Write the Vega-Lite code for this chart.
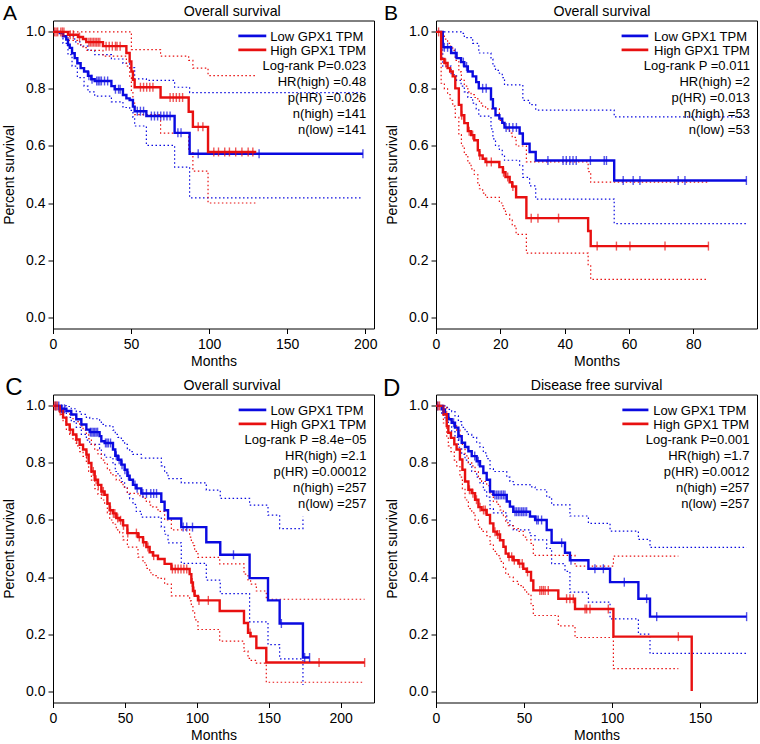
{
"$schema": "https://vega.github.io/schema/vega-lite/v6.json",
"background": "white",
"padding": {"left": 2, "top": 1.5, "right": 0, "bottom": 0},
"bounds": "flush",
"columns": 2,
"spacing": {"row": 66, "column": 62},
"config": {
  "font": "Liberation Sans",
  "view": {"stroke": "black", "strokeWidth": 1},
  "axis": {"domain": false, "grid": false, "tickColor": "black", "tickSize": 5, "labelColor": "black", "labelFont": "Liberation Sans", "labelFontSize": 14, "titleFont": "Liberation Sans", "titleFontSize": 14, "titleFontWeight": "normal", "titleColor": "black", "labelFlush": false, "labelOverlap": false},
  "axisX": {"labelPadding": 4, "titlePadding": 3},
  "axisY": {"labelPadding": 3, "titlePadding": 9}
},
"datasets": {
"curves": [
{"p":"A","g":"Low","k":"est","t":0,"s":1},{"p":"A","g":"Low","k":"est","t":4.3,"s":0.996},{"p":"A","g":"Low","k":"est","t":6.4,"s":0.985},{"p":"A","g":"Low","k":"est","t":8.5,"s":0.973},{"p":"A","g":"Low","k":"est","t":9.6,"s":0.955},{"p":"A","g":"Low","k":"est","t":10.7,"s":0.944},{"p":"A","g":"Low","k":"est","t":12.2,"s":0.925},{"p":"A","g":"Low","k":"est","t":13.9,"s":0.908},{"p":"A","g":"Low","k":"est","t":15.6,"s":0.89},{"p":"A","g":"Low","k":"est","t":17.7,"s":0.873},{"p":"A","g":"Low","k":"est","t":19.9,"s":0.861},{"p":"A","g":"Low","k":"est","t":22.4,"s":0.846},{"p":"A","g":"Low","k":"est","t":24.5,"s":0.834},{"p":"A","g":"Low","k":"est","t":26.7,"s":0.828},{"p":"A","g":"Low","k":"est","t":37.4,"s":0.81},{"p":"A","g":"Low","k":"est","t":39.5,"s":0.799},{"p":"A","g":"Low","k":"est","t":44.8,"s":0.779},{"p":"A","g":"Low","k":"est","t":47.0,"s":0.767},{"p":"A","g":"Low","k":"est","t":49.1,"s":0.761},{"p":"A","g":"Low","k":"est","t":51.2,"s":0.738},{"p":"A","g":"Low","k":"est","t":52.3,"s":0.722},{"p":"A","g":"Low","k":"est","t":59.8,"s":0.705},{"p":"A","g":"Low","k":"est","t":77.9,"s":0.646},{"p":"A","g":"Low","k":"est","t":87.5,"s":0.573},{"p":"A","g":"Low","k":"est","t":198.5,"s":0.573},
{"p":"A","g":"Low","k":"upper","t":0,"s":1},{"p":"A","g":"Low","k":"upper","t":8.5,"s":0.995},{"p":"A","g":"Low","k":"upper","t":10.7,"s":0.985},{"p":"A","g":"Low","k":"upper","t":13.9,"s":0.965},{"p":"A","g":"Low","k":"upper","t":17.7,"s":0.95},{"p":"A","g":"Low","k":"upper","t":22.4,"s":0.935},{"p":"A","g":"Low","k":"upper","t":26.7,"s":0.92},{"p":"A","g":"Low","k":"upper","t":37.4,"s":0.905},{"p":"A","g":"Low","k":"upper","t":44.8,"s":0.89},{"p":"A","g":"Low","k":"upper","t":49.1,"s":0.875},{"p":"A","g":"Low","k":"upper","t":52.3,"s":0.835},{"p":"A","g":"Low","k":"upper","t":59.8,"s":0.83},{"p":"A","g":"Low","k":"upper","t":77.9,"s":0.806},{"p":"A","g":"Low","k":"upper","t":87.5,"s":0.787},{"p":"A","g":"Low","k":"upper","t":198.5,"s":0.787},
{"p":"A","g":"Low","k":"lower","t":0,"s":1},{"p":"A","g":"Low","k":"lower","t":6.4,"s":0.96},{"p":"A","g":"Low","k":"lower","t":9.6,"s":0.92},{"p":"A","g":"Low","k":"lower","t":12.2,"s":0.88},{"p":"A","g":"Low","k":"lower","t":15.6,"s":0.84},{"p":"A","g":"Low","k":"lower","t":19.9,"s":0.81},{"p":"A","g":"Low","k":"lower","t":22.4,"s":0.79},{"p":"A","g":"Low","k":"lower","t":26.7,"s":0.775},{"p":"A","g":"Low","k":"lower","t":37.4,"s":0.755},{"p":"A","g":"Low","k":"lower","t":44.8,"s":0.735},{"p":"A","g":"Low","k":"lower","t":49.1,"s":0.725},{"p":"A","g":"Low","k":"lower","t":51.2,"s":0.7},{"p":"A","g":"Low","k":"lower","t":52.3,"s":0.67},{"p":"A","g":"Low","k":"lower","t":59.8,"s":0.602},{"p":"A","g":"Low","k":"lower","t":77.9,"s":0.526},{"p":"A","g":"Low","k":"lower","t":87.5,"s":0.418},{"p":"A","g":"Low","k":"lower","t":198.5,"s":0.418},
{"p":"A","g":"High","k":"est","t":0,"s":1},{"p":"A","g":"High","k":"est","t":9.6,"s":0.99},{"p":"A","g":"High","k":"est","t":16.0,"s":0.982},{"p":"A","g":"High","k":"est","t":19.2,"s":0.975},{"p":"A","g":"High","k":"est","t":21.3,"s":0.964},{"p":"A","g":"High","k":"est","t":32.0,"s":0.95},{"p":"A","g":"High","k":"est","t":47.0,"s":0.926},{"p":"A","g":"High","k":"est","t":49.1,"s":0.896},{"p":"A","g":"High","k":"est","t":50.2,"s":0.861},{"p":"A","g":"High","k":"est","t":51.2,"s":0.832},{"p":"A","g":"High","k":"est","t":52.3,"s":0.806},{"p":"A","g":"High","k":"est","t":68.9,"s":0.77},{"p":"A","g":"High","k":"est","t":86.9,"s":0.72},{"p":"A","g":"High","k":"est","t":89.6,"s":0.667},{"p":"A","g":"High","k":"est","t":99.3,"s":0.579},{"p":"A","g":"High","k":"est","t":130.2,"s":0.579},
{"p":"A","g":"High","k":"upper","t":0,"s":1},{"p":"A","g":"High","k":"upper","t":50.2,"s":0.938},{"p":"A","g":"High","k":"upper","t":68.9,"s":0.915},{"p":"A","g":"High","k":"upper","t":86.9,"s":0.9},{"p":"A","g":"High","k":"upper","t":89.6,"s":0.873},{"p":"A","g":"High","k":"upper","t":99.3,"s":0.847},{"p":"A","g":"High","k":"upper","t":130.2,"s":0.847},
{"p":"A","g":"High","k":"lower","t":0,"s":1},{"p":"A","g":"High","k":"lower","t":9.6,"s":0.97},{"p":"A","g":"High","k":"lower","t":16.0,"s":0.955},{"p":"A","g":"High","k":"lower","t":19.2,"s":0.945},{"p":"A","g":"High","k":"lower","t":21.3,"s":0.935},{"p":"A","g":"High","k":"lower","t":32.0,"s":0.915},{"p":"A","g":"High","k":"lower","t":47.0,"s":0.88},{"p":"A","g":"High","k":"lower","t":49.1,"s":0.84},{"p":"A","g":"High","k":"lower","t":50.2,"s":0.79},{"p":"A","g":"High","k":"lower","t":51.2,"s":0.75},{"p":"A","g":"High","k":"lower","t":52.3,"s":0.71},{"p":"A","g":"High","k":"lower","t":68.9,"s":0.645},{"p":"A","g":"High","k":"lower","t":86.9,"s":0.58},{"p":"A","g":"High","k":"lower","t":89.6,"s":0.512},{"p":"A","g":"High","k":"lower","t":99.3,"s":0.4},{"p":"A","g":"High","k":"lower","t":130.2,"s":0.4},

{"p":"B","g":"Low","k":"est","t":0,"s":1},{"p":"B","g":"Low","k":"est","t":2.1,"s":0.946},{"p":"B","g":"Low","k":"est","t":4.7,"s":0.926},{"p":"B","g":"Low","k":"est","t":6.4,"s":0.908},{"p":"B","g":"Low","k":"est","t":7.8,"s":0.894},{"p":"B","g":"Low","k":"est","t":8.8,"s":0.879},{"p":"B","g":"Low","k":"est","t":9.9,"s":0.861},{"p":"B","g":"Low","k":"est","t":11.4,"s":0.844},{"p":"B","g":"Low","k":"est","t":12.5,"s":0.824},{"p":"B","g":"Low","k":"est","t":13.3,"s":0.802},{"p":"B","g":"Low","k":"est","t":17.1,"s":0.764},{"p":"B","g":"Low","k":"est","t":17.7,"s":0.732},{"p":"B","g":"Low","k":"est","t":18.5,"s":0.708},{"p":"B","g":"Low","k":"est","t":19.7,"s":0.696},{"p":"B","g":"Low","k":"est","t":20.6,"s":0.681},{"p":"B","g":"Low","k":"est","t":21.3,"s":0.665},{"p":"B","g":"Low","k":"est","t":26.0,"s":0.644},{"p":"B","g":"Low","k":"est","t":27.0,"s":0.608},{"p":"B","g":"Low","k":"est","t":29.1,"s":0.579},{"p":"B","g":"Low","k":"est","t":31.0,"s":0.549},{"p":"B","g":"Low","k":"est","t":55.4,"s":0.479},{"p":"B","g":"Low","k":"est","t":96.5,"s":0.479},
{"p":"B","g":"Low","k":"upper","t":0,"s":1},{"p":"B","g":"Low","k":"upper","t":7.8,"s":0.995},{"p":"B","g":"Low","k":"upper","t":8.8,"s":0.98},{"p":"B","g":"Low","k":"upper","t":11.4,"s":0.96},{"p":"B","g":"Low","k":"upper","t":13.3,"s":0.926},{"p":"B","g":"Low","k":"upper","t":17.1,"s":0.905},{"p":"B","g":"Low","k":"upper","t":17.7,"s":0.88},{"p":"B","g":"Low","k":"upper","t":18.5,"s":0.865},{"p":"B","g":"Low","k":"upper","t":19.7,"s":0.855},{"p":"B","g":"Low","k":"upper","t":20.6,"s":0.84},{"p":"B","g":"Low","k":"upper","t":21.3,"s":0.814},{"p":"B","g":"Low","k":"upper","t":27.0,"s":0.76},{"p":"B","g":"Low","k":"upper","t":29.1,"s":0.745},{"p":"B","g":"Low","k":"upper","t":31.0,"s":0.726},{"p":"B","g":"Low","k":"upper","t":55.4,"s":0.702},{"p":"B","g":"Low","k":"upper","t":96.5,"s":0.702},
{"p":"B","g":"Low","k":"lower","t":0,"s":1},{"p":"B","g":"Low","k":"lower","t":2.1,"s":0.88},{"p":"B","g":"Low","k":"lower","t":4.7,"s":0.85},{"p":"B","g":"Low","k":"lower","t":6.4,"s":0.83},{"p":"B","g":"Low","k":"lower","t":7.8,"s":0.81},{"p":"B","g":"Low","k":"lower","t":8.8,"s":0.79},{"p":"B","g":"Low","k":"lower","t":9.9,"s":0.77},{"p":"B","g":"Low","k":"lower","t":11.4,"s":0.75},{"p":"B","g":"Low","k":"lower","t":12.5,"s":0.73},{"p":"B","g":"Low","k":"lower","t":13.3,"s":0.705},{"p":"B","g":"Low","k":"lower","t":17.1,"s":0.66},{"p":"B","g":"Low","k":"lower","t":17.7,"s":0.625},{"p":"B","g":"Low","k":"lower","t":18.5,"s":0.6},{"p":"B","g":"Low","k":"lower","t":19.7,"s":0.585},{"p":"B","g":"Low","k":"lower","t":20.6,"s":0.57},{"p":"B","g":"Low","k":"lower","t":21.3,"s":0.55},{"p":"B","g":"Low","k":"lower","t":26.0,"s":0.53},{"p":"B","g":"Low","k":"lower","t":27.0,"s":0.49},{"p":"B","g":"Low","k":"lower","t":29.1,"s":0.46},{"p":"B","g":"Low","k":"lower","t":31.0,"s":0.414},{"p":"B","g":"Low","k":"lower","t":55.4,"s":0.328},{"p":"B","g":"Low","k":"lower","t":96.5,"s":0.328},
{"p":"B","g":"High","k":"est","t":0,"s":1},{"p":"B","g":"High","k":"est","t":1.6,"s":0.905},{"p":"B","g":"High","k":"est","t":2.6,"s":0.891},{"p":"B","g":"High","k":"est","t":3.6,"s":0.873},{"p":"B","g":"High","k":"est","t":4.4,"s":0.861},{"p":"B","g":"High","k":"est","t":5.2,"s":0.844},{"p":"B","g":"High","k":"est","t":6.0,"s":0.802},{"p":"B","g":"High","k":"est","t":7.1,"s":0.744},{"p":"B","g":"High","k":"est","t":7.9,"s":0.708},{"p":"B","g":"High","k":"est","t":8.8,"s":0.68},{"p":"B","g":"High","k":"est","t":9.9,"s":0.652},{"p":"B","g":"High","k":"est","t":10.9,"s":0.638},{"p":"B","g":"High","k":"est","t":11.9,"s":0.62},{"p":"B","g":"High","k":"est","t":13.0,"s":0.585},{"p":"B","g":"High","k":"est","t":13.5,"s":0.567},{"p":"B","g":"High","k":"est","t":14.5,"s":0.555},{"p":"B","g":"High","k":"est","t":15.4,"s":0.544},{"p":"B","g":"High","k":"est","t":19.7,"s":0.526},{"p":"B","g":"High","k":"est","t":20.8,"s":0.508},{"p":"B","g":"High","k":"est","t":21.6,"s":0.491},{"p":"B","g":"High","k":"est","t":22.9,"s":0.473},{"p":"B","g":"High","k":"est","t":23.7,"s":0.458},{"p":"B","g":"High","k":"est","t":24.9,"s":0.42},{"p":"B","g":"High","k":"est","t":28.1,"s":0.347},{"p":"B","g":"High","k":"est","t":47.3,"s":0.302},{"p":"B","g":"High","k":"est","t":48.1,"s":0.249},{"p":"B","g":"High","k":"est","t":84.7,"s":0.249},
{"p":"B","g":"High","k":"upper","t":0,"s":1},{"p":"B","g":"High","k":"upper","t":1.6,"s":0.99},{"p":"B","g":"High","k":"upper","t":2.6,"s":0.975},{"p":"B","g":"High","k":"upper","t":3.6,"s":0.96},{"p":"B","g":"High","k":"upper","t":4.4,"s":0.95},{"p":"B","g":"High","k":"upper","t":5.2,"s":0.935},{"p":"B","g":"High","k":"upper","t":6.0,"s":0.9},{"p":"B","g":"High","k":"upper","t":7.1,"s":0.86},{"p":"B","g":"High","k":"upper","t":7.9,"s":0.83},{"p":"B","g":"High","k":"upper","t":8.8,"s":0.81},{"p":"B","g":"High","k":"upper","t":9.9,"s":0.79},{"p":"B","g":"High","k":"upper","t":10.9,"s":0.78},{"p":"B","g":"High","k":"upper","t":11.9,"s":0.77},{"p":"B","g":"High","k":"upper","t":13.0,"s":0.76},{"p":"B","g":"High","k":"upper","t":13.5,"s":0.75},{"p":"B","g":"High","k":"upper","t":14.5,"s":0.74},{"p":"B","g":"High","k":"upper","t":15.4,"s":0.73},{"p":"B","g":"High","k":"upper","t":19.7,"s":0.69},{"p":"B","g":"High","k":"upper","t":20.8,"s":0.675},{"p":"B","g":"High","k":"upper","t":21.6,"s":0.66},{"p":"B","g":"High","k":"upper","t":22.9,"s":0.645},{"p":"B","g":"High","k":"upper","t":23.7,"s":0.63},{"p":"B","g":"High","k":"upper","t":24.9,"s":0.6},{"p":"B","g":"High","k":"upper","t":28.1,"s":0.544},{"p":"B","g":"High","k":"upper","t":47.3,"s":0.51},{"p":"B","g":"High","k":"upper","t":48.1,"s":0.473},{"p":"B","g":"High","k":"upper","t":84.7,"s":0.473},
{"p":"B","g":"High","k":"lower","t":0,"s":1},{"p":"B","g":"High","k":"lower","t":1.6,"s":0.82},{"p":"B","g":"High","k":"lower","t":2.6,"s":0.8},{"p":"B","g":"High","k":"lower","t":3.6,"s":0.78},{"p":"B","g":"High","k":"lower","t":4.4,"s":0.76},{"p":"B","g":"High","k":"lower","t":5.2,"s":0.74},{"p":"B","g":"High","k":"lower","t":6.0,"s":0.7},{"p":"B","g":"High","k":"lower","t":7.1,"s":0.64},{"p":"B","g":"High","k":"lower","t":7.9,"s":0.6},{"p":"B","g":"High","k":"lower","t":8.8,"s":0.57},{"p":"B","g":"High","k":"lower","t":9.9,"s":0.54},{"p":"B","g":"High","k":"lower","t":10.9,"s":0.52},{"p":"B","g":"High","k":"lower","t":11.9,"s":0.5},{"p":"B","g":"High","k":"lower","t":13.0,"s":0.465},{"p":"B","g":"High","k":"lower","t":13.5,"s":0.45},{"p":"B","g":"High","k":"lower","t":14.5,"s":0.435},{"p":"B","g":"High","k":"lower","t":15.4,"s":0.42},{"p":"B","g":"High","k":"lower","t":19.7,"s":0.4},{"p":"B","g":"High","k":"lower","t":20.8,"s":0.38},{"p":"B","g":"High","k":"lower","t":21.6,"s":0.36},{"p":"B","g":"High","k":"lower","t":22.9,"s":0.34},{"p":"B","g":"High","k":"lower","t":23.7,"s":0.32},{"p":"B","g":"High","k":"lower","t":24.9,"s":0.29},{"p":"B","g":"High","k":"lower","t":28.1,"s":0.224},{"p":"B","g":"High","k":"lower","t":47.3,"s":0.18},{"p":"B","g":"High","k":"lower","t":48.1,"s":0.132},{"p":"B","g":"High","k":"lower","t":84.7,"s":0.132},

{"p":"C","g":"Low","k":"est","t":0,"s":1},{"p":"C","g":"Low","k":"est","t":5.8,"s":0.99},{"p":"C","g":"Low","k":"est","t":9.3,"s":0.982},{"p":"C","g":"Low","k":"est","t":12.7,"s":0.97},{"p":"C","g":"Low","k":"est","t":16.2,"s":0.953},{"p":"C","g":"Low","k":"est","t":19.7,"s":0.935},{"p":"C","g":"Low","k":"est","t":23.2,"s":0.917},{"p":"C","g":"Low","k":"est","t":25.5,"s":0.908},{"p":"C","g":"Low","k":"est","t":32.4,"s":0.894},{"p":"C","g":"Low","k":"est","t":33.6,"s":0.876},{"p":"C","g":"Low","k":"est","t":35.9,"s":0.87},{"p":"C","g":"Low","k":"est","t":41.7,"s":0.847},{"p":"C","g":"Low","k":"est","t":43.3,"s":0.825},{"p":"C","g":"Low","k":"est","t":45.2,"s":0.811},{"p":"C","g":"Low","k":"est","t":47.5,"s":0.794},{"p":"C","g":"Low","k":"est","t":49.8,"s":0.776},{"p":"C","g":"Low","k":"est","t":51.7,"s":0.755},{"p":"C","g":"Low","k":"est","t":53.3,"s":0.741},{"p":"C","g":"Low","k":"est","t":55.6,"s":0.723},{"p":"C","g":"Low","k":"est","t":57.9,"s":0.711},{"p":"C","g":"Low","k":"est","t":61.4,"s":0.693},{"p":"C","g":"Low","k":"est","t":75.3,"s":0.664},{"p":"C","g":"Low","k":"est","t":77.6,"s":0.634},{"p":"C","g":"Low","k":"est","t":80.0,"s":0.605},{"p":"C","g":"Low","k":"est","t":89.2,"s":0.575},{"p":"C","g":"Low","k":"est","t":106.6,"s":0.522},{"p":"C","g":"Low","k":"est","t":116.3,"s":0.478},{"p":"C","g":"Low","k":"est","t":136.7,"s":0.396},{"p":"C","g":"Low","k":"est","t":149.5,"s":0.318},{"p":"C","g":"Low","k":"est","t":157.6,"s":0.237},{"p":"C","g":"Low","k":"est","t":173.8,"s":0.118},{"p":"C","g":"Low","k":"est","t":178.4,"s":0.118},
{"p":"C","g":"Low","k":"upper","t":0,"s":1},{"p":"C","g":"Low","k":"upper","t":9.3,"s":0.998},{"p":"C","g":"Low","k":"upper","t":12.7,"s":0.99},{"p":"C","g":"Low","k":"upper","t":16.2,"s":0.98},{"p":"C","g":"Low","k":"upper","t":19.7,"s":0.97},{"p":"C","g":"Low","k":"upper","t":23.2,"s":0.96},{"p":"C","g":"Low","k":"upper","t":25.5,"s":0.955},{"p":"C","g":"Low","k":"upper","t":32.4,"s":0.947},{"p":"C","g":"Low","k":"upper","t":33.6,"s":0.935},{"p":"C","g":"Low","k":"upper","t":35.9,"s":0.93},{"p":"C","g":"Low","k":"upper","t":41.7,"s":0.915},{"p":"C","g":"Low","k":"upper","t":43.3,"s":0.9},{"p":"C","g":"Low","k":"upper","t":45.2,"s":0.89},{"p":"C","g":"Low","k":"upper","t":47.5,"s":0.878},{"p":"C","g":"Low","k":"upper","t":49.8,"s":0.865},{"p":"C","g":"Low","k":"upper","t":51.7,"s":0.85},{"p":"C","g":"Low","k":"upper","t":53.3,"s":0.84},{"p":"C","g":"Low","k":"upper","t":55.6,"s":0.83},{"p":"C","g":"Low","k":"upper","t":61.4,"s":0.817},{"p":"C","g":"Low","k":"upper","t":75.3,"s":0.79},{"p":"C","g":"Low","k":"upper","t":77.6,"s":0.765},{"p":"C","g":"Low","k":"upper","t":80.0,"s":0.745},{"p":"C","g":"Low","k":"upper","t":89.2,"s":0.73},{"p":"C","g":"Low","k":"upper","t":106.6,"s":0.705},{"p":"C","g":"Low","k":"upper","t":116.3,"s":0.676},{"p":"C","g":"Low","k":"upper","t":136.7,"s":0.652},{"p":"C","g":"Low","k":"upper","t":149.5,"s":0.617},{"p":"C","g":"Low","k":"upper","t":157.6,"s":0.57},{"p":"C","g":"Low","k":"upper","t":173.8,"s":0.611},
{"p":"C","g":"Low","k":"lower","t":0,"s":1},{"p":"C","g":"Low","k":"lower","t":5.8,"s":0.975},{"p":"C","g":"Low","k":"lower","t":9.3,"s":0.96},{"p":"C","g":"Low","k":"lower","t":12.7,"s":0.945},{"p":"C","g":"Low","k":"lower","t":16.2,"s":0.925},{"p":"C","g":"Low","k":"lower","t":19.7,"s":0.9},{"p":"C","g":"Low","k":"lower","t":23.2,"s":0.88},{"p":"C","g":"Low","k":"lower","t":25.5,"s":0.865},{"p":"C","g":"Low","k":"lower","t":32.4,"s":0.85},{"p":"C","g":"Low","k":"lower","t":33.6,"s":0.83},{"p":"C","g":"Low","k":"lower","t":35.9,"s":0.82},{"p":"C","g":"Low","k":"lower","t":41.7,"s":0.795},{"p":"C","g":"Low","k":"lower","t":43.3,"s":0.77},{"p":"C","g":"Low","k":"lower","t":45.2,"s":0.755},{"p":"C","g":"Low","k":"lower","t":47.5,"s":0.735},{"p":"C","g":"Low","k":"lower","t":49.8,"s":0.715},{"p":"C","g":"Low","k":"lower","t":51.7,"s":0.69},{"p":"C","g":"Low","k":"lower","t":53.3,"s":0.675},{"p":"C","g":"Low","k":"lower","t":55.6,"s":0.655},{"p":"C","g":"Low","k":"lower","t":57.9,"s":0.63},{"p":"C","g":"Low","k":"lower","t":61.4,"s":0.61},{"p":"C","g":"Low","k":"lower","t":75.3,"s":0.575},{"p":"C","g":"Low","k":"lower","t":77.6,"s":0.55},{"p":"C","g":"Low","k":"lower","t":80.0,"s":0.52},{"p":"C","g":"Low","k":"lower","t":89.2,"s":0.448},{"p":"C","g":"Low","k":"lower","t":106.6,"s":0.389},{"p":"C","g":"Low","k":"lower","t":116.3,"s":0.342},{"p":"C","g":"Low","k":"lower","t":136.7,"s":0.243},{"p":"C","g":"Low","k":"lower","t":149.5,"s":0.163},{"p":"C","g":"Low","k":"lower","t":157.6,"s":0.113},{"p":"C","g":"Low","k":"lower","t":173.8,"s":0.021},
{"p":"C","g":"High","k":"est","t":0,"s":1},{"p":"C","g":"High","k":"est","t":4.6,"s":0.982},{"p":"C","g":"High","k":"est","t":7.0,"s":0.959},{"p":"C","g":"High","k":"est","t":9.3,"s":0.935},{"p":"C","g":"High","k":"est","t":11.6,"s":0.917},{"p":"C","g":"High","k":"est","t":13.9,"s":0.9},{"p":"C","g":"High","k":"est","t":16.2,"s":0.882},{"p":"C","g":"High","k":"est","t":18.5,"s":0.864},{"p":"C","g":"High","k":"est","t":20.9,"s":0.847},{"p":"C","g":"High","k":"est","t":23.2,"s":0.829},{"p":"C","g":"High","k":"est","t":24.8,"s":0.8},{"p":"C","g":"High","k":"est","t":26.7,"s":0.77},{"p":"C","g":"High","k":"est","t":29.0,"s":0.741},{"p":"C","g":"High","k":"est","t":31.3,"s":0.723},{"p":"C","g":"High","k":"est","t":33.6,"s":0.7},{"p":"C","g":"High","k":"est","t":35.9,"s":0.688},{"p":"C","g":"High","k":"est","t":37.8,"s":0.658},{"p":"C","g":"High","k":"est","t":39.4,"s":0.634},{"p":"C","g":"High","k":"est","t":41.7,"s":0.623},{"p":"C","g":"High","k":"est","t":44.0,"s":0.607},{"p":"C","g":"High","k":"est","t":46.3,"s":0.599},{"p":"C","g":"High","k":"est","t":48.7,"s":0.581},{"p":"C","g":"High","k":"est","t":51.7,"s":0.554},{"p":"C","g":"High","k":"est","t":59.1,"s":0.54},{"p":"C","g":"High","k":"est","t":62.6,"s":0.522},{"p":"C","g":"High","k":"est","t":64.9,"s":0.505},{"p":"C","g":"High","k":"est","t":67.2,"s":0.487},{"p":"C","g":"High","k":"est","t":69.5,"s":0.475},{"p":"C","g":"High","k":"est","t":73.0,"s":0.463},{"p":"C","g":"High","k":"est","t":77.6,"s":0.446},{"p":"C","g":"High","k":"est","t":82.3,"s":0.428},{"p":"C","g":"High","k":"est","t":95.0,"s":0.41},{"p":"C","g":"High","k":"est","t":96.2,"s":0.381},{"p":"C","g":"High","k":"est","t":97.3,"s":0.351},{"p":"C","g":"High","k":"est","t":98.5,"s":0.334},{"p":"C","g":"High","k":"est","t":100.8,"s":0.318},{"p":"C","g":"High","k":"est","t":115.9,"s":0.281},{"p":"C","g":"High","k":"est","t":132.8,"s":0.239},{"p":"C","g":"High","k":"est","t":135.6,"s":0.204},{"p":"C","g":"High","k":"est","t":137.4,"s":0.192},{"p":"C","g":"High","k":"est","t":141.4,"s":0.151},{"p":"C","g":"High","k":"est","t":148.3,"s":0.1},{"p":"C","g":"High","k":"est","t":216.7,"s":0.1},
{"p":"C","g":"High","k":"upper","t":0,"s":1},{"p":"C","g":"High","k":"upper","t":4.6,"s":0.998},{"p":"C","g":"High","k":"upper","t":7.0,"s":0.99},{"p":"C","g":"High","k":"upper","t":9.3,"s":0.98},{"p":"C","g":"High","k":"upper","t":11.6,"s":0.97},{"p":"C","g":"High","k":"upper","t":13.9,"s":0.955},{"p":"C","g":"High","k":"upper","t":16.2,"s":0.945},{"p":"C","g":"High","k":"upper","t":18.5,"s":0.93},{"p":"C","g":"High","k":"upper","t":20.9,"s":0.915},{"p":"C","g":"High","k":"upper","t":23.2,"s":0.9},{"p":"C","g":"High","k":"upper","t":24.8,"s":0.885},{"p":"C","g":"High","k":"upper","t":26.7,"s":0.865},{"p":"C","g":"High","k":"upper","t":29.0,"s":0.845},{"p":"C","g":"High","k":"upper","t":31.3,"s":0.832},{"p":"C","g":"High","k":"upper","t":33.6,"s":0.81},{"p":"C","g":"High","k":"upper","t":35.9,"s":0.8},{"p":"C","g":"High","k":"upper","t":37.8,"s":0.78},{"p":"C","g":"High","k":"upper","t":39.4,"s":0.765},{"p":"C","g":"High","k":"upper","t":41.7,"s":0.755},{"p":"C","g":"High","k":"upper","t":44.0,"s":0.74},{"p":"C","g":"High","k":"upper","t":46.3,"s":0.732},{"p":"C","g":"High","k":"upper","t":48.7,"s":0.715},{"p":"C","g":"High","k":"upper","t":51.7,"s":0.693},{"p":"C","g":"High","k":"upper","t":59.1,"s":0.685},{"p":"C","g":"High","k":"upper","t":62.6,"s":0.676},{"p":"C","g":"High","k":"upper","t":64.9,"s":0.665},{"p":"C","g":"High","k":"upper","t":67.2,"s":0.652},{"p":"C","g":"High","k":"upper","t":69.5,"s":0.645},{"p":"C","g":"High","k":"upper","t":73.0,"s":0.63},{"p":"C","g":"High","k":"upper","t":77.6,"s":0.6},{"p":"C","g":"High","k":"upper","t":82.3,"s":0.565},{"p":"C","g":"High","k":"upper","t":95.0,"s":0.54},{"p":"C","g":"High","k":"upper","t":96.2,"s":0.525},{"p":"C","g":"High","k":"upper","t":97.3,"s":0.51},{"p":"C","g":"High","k":"upper","t":98.5,"s":0.49},{"p":"C","g":"High","k":"upper","t":100.8,"s":0.469},{"p":"C","g":"High","k":"upper","t":115.9,"s":0.446},{"p":"C","g":"High","k":"upper","t":132.8,"s":0.41},{"p":"C","g":"High","k":"upper","t":135.6,"s":0.39},{"p":"C","g":"High","k":"upper","t":137.4,"s":0.375},{"p":"C","g":"High","k":"upper","t":141.4,"s":0.351},{"p":"C","g":"High","k":"upper","t":148.3,"s":0.322},{"p":"C","g":"High","k":"upper","t":216.7,"s":0.322},
{"p":"C","g":"High","k":"lower","t":0,"s":1},{"p":"C","g":"High","k":"lower","t":4.6,"s":0.97},{"p":"C","g":"High","k":"lower","t":7.0,"s":0.945},{"p":"C","g":"High","k":"lower","t":9.3,"s":0.915},{"p":"C","g":"High","k":"lower","t":11.6,"s":0.9},{"p":"C","g":"High","k":"lower","t":13.9,"s":0.88},{"p":"C","g":"High","k":"lower","t":16.2,"s":0.86},{"p":"C","g":"High","k":"lower","t":18.5,"s":0.84},{"p":"C","g":"High","k":"lower","t":20.9,"s":0.823},{"p":"C","g":"High","k":"lower","t":23.2,"s":0.8},{"p":"C","g":"High","k":"lower","t":24.8,"s":0.77},{"p":"C","g":"High","k":"lower","t":26.7,"s":0.74},{"p":"C","g":"High","k":"lower","t":29.0,"s":0.71},{"p":"C","g":"High","k":"lower","t":31.3,"s":0.69},{"p":"C","g":"High","k":"lower","t":33.6,"s":0.67},{"p":"C","g":"High","k":"lower","t":35.9,"s":0.655},{"p":"C","g":"High","k":"lower","t":37.8,"s":0.625},{"p":"C","g":"High","k":"lower","t":39.4,"s":0.6},{"p":"C","g":"High","k":"lower","t":41.7,"s":0.585},{"p":"C","g":"High","k":"lower","t":44.0,"s":0.565},{"p":"C","g":"High","k":"lower","t":46.3,"s":0.555},{"p":"C","g":"High","k":"lower","t":48.7,"s":0.53},{"p":"C","g":"High","k":"lower","t":51.7,"s":0.505},{"p":"C","g":"High","k":"lower","t":59.1,"s":0.47},{"p":"C","g":"High","k":"lower","t":62.6,"s":0.45},{"p":"C","g":"High","k":"lower","t":64.9,"s":0.43},{"p":"C","g":"High","k":"lower","t":67.2,"s":0.415},{"p":"C","g":"High","k":"lower","t":69.5,"s":0.405},{"p":"C","g":"High","k":"lower","t":73.0,"s":0.395},{"p":"C","g":"High","k":"lower","t":77.6,"s":0.375},{"p":"C","g":"High","k":"lower","t":82.3,"s":0.334},{"p":"C","g":"High","k":"lower","t":95.0,"s":0.316},{"p":"C","g":"High","k":"lower","t":96.2,"s":0.3},{"p":"C","g":"High","k":"lower","t":97.3,"s":0.281},{"p":"C","g":"High","k":"lower","t":98.5,"s":0.25},{"p":"C","g":"High","k":"lower","t":100.8,"s":0.216},{"p":"C","g":"High","k":"lower","t":115.9,"s":0.175},{"p":"C","g":"High","k":"lower","t":132.8,"s":0.14},{"p":"C","g":"High","k":"lower","t":135.6,"s":0.115},{"p":"C","g":"High","k":"lower","t":137.4,"s":0.108},{"p":"C","g":"High","k":"lower","t":141.4,"s":0.098},{"p":"C","g":"High","k":"lower","t":148.3,"s":0.031},{"p":"C","g":"High","k":"lower","t":216.7,"s":0.031},

{"p":"D","g":"Low","k":"est","t":0,"s":1},{"p":"D","g":"Low","k":"est","t":3.2,"s":0.988},{"p":"D","g":"Low","k":"est","t":5.1,"s":0.971},{"p":"D","g":"Low","k":"est","t":7.0,"s":0.953},{"p":"D","g":"Low","k":"est","t":8.9,"s":0.941},{"p":"D","g":"Low","k":"est","t":10.8,"s":0.924},{"p":"D","g":"Low","k":"est","t":12.7,"s":0.894},{"p":"D","g":"Low","k":"est","t":14.6,"s":0.871},{"p":"D","g":"Low","k":"est","t":16.5,"s":0.856},{"p":"D","g":"Low","k":"est","t":18.4,"s":0.841},{"p":"D","g":"Low","k":"est","t":20.3,"s":0.824},{"p":"D","g":"Low","k":"est","t":23.1,"s":0.806},{"p":"D","g":"Low","k":"est","t":25.0,"s":0.788},{"p":"D","g":"Low","k":"est","t":26.9,"s":0.765},{"p":"D","g":"Low","k":"est","t":28.8,"s":0.741},{"p":"D","g":"Low","k":"est","t":30.7,"s":0.7},{"p":"D","g":"Low","k":"est","t":32.6,"s":0.688},{"p":"D","g":"Low","k":"est","t":40.2,"s":0.665},{"p":"D","g":"Low","k":"est","t":42.0,"s":0.647},{"p":"D","g":"Low","k":"est","t":43.9,"s":0.629},{"p":"D","g":"Low","k":"est","t":53.4,"s":0.612},{"p":"D","g":"Low","k":"est","t":56.3,"s":0.6},{"p":"D","g":"Low","k":"est","t":62.9,"s":0.565},{"p":"D","g":"Low","k":"est","t":65.7,"s":0.52},{"p":"D","g":"Low","k":"est","t":73.3,"s":0.485},{"p":"D","g":"Low","k":"est","t":76.1,"s":0.459},{"p":"D","g":"Low","k":"est","t":86.6,"s":0.429},{"p":"D","g":"Low","k":"est","t":98.9,"s":0.382},{"p":"D","g":"Low","k":"est","t":115.0,"s":0.324},{"p":"D","g":"Low","k":"est","t":121.6,"s":0.261},{"p":"D","g":"Low","k":"est","t":176.5,"s":0.261},
{"p":"D","g":"Low","k":"upper","t":0,"s":1},{"p":"D","g":"Low","k":"upper","t":5.1,"s":0.995},{"p":"D","g":"Low","k":"upper","t":7.0,"s":0.988},{"p":"D","g":"Low","k":"upper","t":8.9,"s":0.98},{"p":"D","g":"Low","k":"upper","t":10.8,"s":0.965},{"p":"D","g":"Low","k":"upper","t":12.7,"s":0.945},{"p":"D","g":"Low","k":"upper","t":14.6,"s":0.925},{"p":"D","g":"Low","k":"upper","t":16.5,"s":0.91},{"p":"D","g":"Low","k":"upper","t":18.4,"s":0.9},{"p":"D","g":"Low","k":"upper","t":20.3,"s":0.89},{"p":"D","g":"Low","k":"upper","t":23.1,"s":0.87},{"p":"D","g":"Low","k":"upper","t":25.0,"s":0.855},{"p":"D","g":"Low","k":"upper","t":26.9,"s":0.835},{"p":"D","g":"Low","k":"upper","t":28.8,"s":0.815},{"p":"D","g":"Low","k":"upper","t":30.7,"s":0.78},{"p":"D","g":"Low","k":"upper","t":32.6,"s":0.77},{"p":"D","g":"Low","k":"upper","t":40.2,"s":0.75},{"p":"D","g":"Low","k":"upper","t":42.0,"s":0.735},{"p":"D","g":"Low","k":"upper","t":43.9,"s":0.724},{"p":"D","g":"Low","k":"upper","t":53.4,"s":0.716},{"p":"D","g":"Low","k":"upper","t":56.3,"s":0.706},{"p":"D","g":"Low","k":"upper","t":62.9,"s":0.68},{"p":"D","g":"Low","k":"upper","t":65.7,"s":0.653},{"p":"D","g":"Low","k":"upper","t":76.1,"s":0.614},{"p":"D","g":"Low","k":"upper","t":86.6,"s":0.588},{"p":"D","g":"Low","k":"upper","t":98.9,"s":0.561},{"p":"D","g":"Low","k":"upper","t":115.0,"s":0.532},{"p":"D","g":"Low","k":"upper","t":121.6,"s":0.504},{"p":"D","g":"Low","k":"upper","t":176.5,"s":0.504},
{"p":"D","g":"Low","k":"lower","t":0,"s":1},{"p":"D","g":"Low","k":"lower","t":3.2,"s":0.97},{"p":"D","g":"Low","k":"lower","t":5.1,"s":0.95},{"p":"D","g":"Low","k":"lower","t":7.0,"s":0.93},{"p":"D","g":"Low","k":"lower","t":8.9,"s":0.91},{"p":"D","g":"Low","k":"lower","t":10.8,"s":0.89},{"p":"D","g":"Low","k":"lower","t":12.7,"s":0.855},{"p":"D","g":"Low","k":"lower","t":14.6,"s":0.83},{"p":"D","g":"Low","k":"lower","t":16.5,"s":0.81},{"p":"D","g":"Low","k":"lower","t":18.4,"s":0.795},{"p":"D","g":"Low","k":"lower","t":20.3,"s":0.77},{"p":"D","g":"Low","k":"lower","t":23.1,"s":0.75},{"p":"D","g":"Low","k":"lower","t":25.0,"s":0.73},{"p":"D","g":"Low","k":"lower","t":26.9,"s":0.705},{"p":"D","g":"Low","k":"lower","t":28.8,"s":0.68},{"p":"D","g":"Low","k":"lower","t":30.7,"s":0.64},{"p":"D","g":"Low","k":"lower","t":32.6,"s":0.625},{"p":"D","g":"Low","k":"lower","t":40.2,"s":0.6},{"p":"D","g":"Low","k":"lower","t":42.0,"s":0.58},{"p":"D","g":"Low","k":"lower","t":43.9,"s":0.565},{"p":"D","g":"Low","k":"lower","t":53.4,"s":0.545},{"p":"D","g":"Low","k":"lower","t":56.3,"s":0.53},{"p":"D","g":"Low","k":"lower","t":62.9,"s":0.5},{"p":"D","g":"Low","k":"lower","t":65.7,"s":0.447},{"p":"D","g":"Low","k":"lower","t":73.3,"s":0.42},{"p":"D","g":"Low","k":"lower","t":76.1,"s":0.347},{"p":"D","g":"Low","k":"lower","t":86.6,"s":0.312},{"p":"D","g":"Low","k":"lower","t":98.9,"s":0.253},{"p":"D","g":"Low","k":"lower","t":115.0,"s":0.2},{"p":"D","g":"Low","k":"lower","t":121.6,"s":0.132},{"p":"D","g":"Low","k":"lower","t":176.5,"s":0.132},
{"p":"D","g":"High","k":"est","t":0,"s":1},{"p":"D","g":"High","k":"est","t":4.2,"s":0.971},{"p":"D","g":"High","k":"est","t":6.1,"s":0.929},{"p":"D","g":"High","k":"est","t":7.0,"s":0.906},{"p":"D","g":"High","k":"est","t":8.5,"s":0.888},{"p":"D","g":"High","k":"est","t":10.4,"s":0.865},{"p":"D","g":"High","k":"est","t":11.7,"s":0.847},{"p":"D","g":"High","k":"est","t":13.6,"s":0.812},{"p":"D","g":"High","k":"est","t":15.0,"s":0.776},{"p":"D","g":"High","k":"est","t":16.5,"s":0.735},{"p":"D","g":"High","k":"est","t":18.4,"s":0.706},{"p":"D","g":"High","k":"est","t":20.3,"s":0.694},{"p":"D","g":"High","k":"est","t":22.2,"s":0.671},{"p":"D","g":"High","k":"est","t":24.1,"s":0.645},{"p":"D","g":"High","k":"est","t":25.9,"s":0.635},{"p":"D","g":"High","k":"est","t":28.8,"s":0.618},{"p":"D","g":"High","k":"est","t":30.7,"s":0.588},{"p":"D","g":"High","k":"est","t":32.6,"s":0.559},{"p":"D","g":"High","k":"est","t":34.5,"s":0.549},{"p":"D","g":"High","k":"est","t":36.4,"s":0.529},{"p":"D","g":"High","k":"est","t":38.3,"s":0.506},{"p":"D","g":"High","k":"est","t":39.6,"s":0.482},{"p":"D","g":"High","k":"est","t":41.1,"s":0.471},{"p":"D","g":"High","k":"est","t":43.9,"s":0.459},{"p":"D","g":"High","k":"est","t":46.8,"s":0.447},{"p":"D","g":"High","k":"est","t":49.6,"s":0.429},{"p":"D","g":"High","k":"est","t":51.5,"s":0.418},{"p":"D","g":"High","k":"est","t":54.0,"s":0.388},{"p":"D","g":"High","k":"est","t":55.3,"s":0.353},{"p":"D","g":"High","k":"est","t":69.5,"s":0.324},{"p":"D","g":"High","k":"est","t":79.0,"s":0.288},{"p":"D","g":"High","k":"est","t":100.8,"s":0.191},{"p":"D","g":"High","k":"est","t":145.3,"s":0},
{"p":"D","g":"High","k":"upper","t":0,"s":1},{"p":"D","g":"High","k":"upper","t":4.2,"s":0.995},{"p":"D","g":"High","k":"upper","t":6.1,"s":0.975},{"p":"D","g":"High","k":"upper","t":7.0,"s":0.96},{"p":"D","g":"High","k":"upper","t":8.5,"s":0.945},{"p":"D","g":"High","k":"upper","t":10.4,"s":0.93},{"p":"D","g":"High","k":"upper","t":11.7,"s":0.915},{"p":"D","g":"High","k":"upper","t":13.6,"s":0.89},{"p":"D","g":"High","k":"upper","t":15.0,"s":0.86},{"p":"D","g":"High","k":"upper","t":16.5,"s":0.825},{"p":"D","g":"High","k":"upper","t":18.4,"s":0.8},{"p":"D","g":"High","k":"upper","t":20.3,"s":0.79},{"p":"D","g":"High","k":"upper","t":22.2,"s":0.77},{"p":"D","g":"High","k":"upper","t":24.1,"s":0.745},{"p":"D","g":"High","k":"upper","t":25.9,"s":0.735},{"p":"D","g":"High","k":"upper","t":28.8,"s":0.72},{"p":"D","g":"High","k":"upper","t":30.7,"s":0.69},{"p":"D","g":"High","k":"upper","t":32.6,"s":0.665},{"p":"D","g":"High","k":"upper","t":34.5,"s":0.655},{"p":"D","g":"High","k":"upper","t":36.4,"s":0.635},{"p":"D","g":"High","k":"upper","t":38.3,"s":0.615},{"p":"D","g":"High","k":"upper","t":39.6,"s":0.59},{"p":"D","g":"High","k":"upper","t":41.1,"s":0.58},{"p":"D","g":"High","k":"upper","t":43.9,"s":0.57},{"p":"D","g":"High","k":"upper","t":46.8,"s":0.56},{"p":"D","g":"High","k":"upper","t":49.6,"s":0.54},{"p":"D","g":"High","k":"upper","t":51.5,"s":0.53},{"p":"D","g":"High","k":"upper","t":54.0,"s":0.518},{"p":"D","g":"High","k":"upper","t":55.3,"s":0.476},{"p":"D","g":"High","k":"upper","t":79.0,"s":0.438},{"p":"D","g":"High","k":"upper","t":100.8,"s":0.473},{"p":"D","g":"High","k":"upper","t":137.7,"s":0.473},
{"p":"D","g":"High","k":"lower","t":0,"s":1},{"p":"D","g":"High","k":"lower","t":4.2,"s":0.94},{"p":"D","g":"High","k":"lower","t":6.1,"s":0.89},{"p":"D","g":"High","k":"lower","t":7.0,"s":0.86},{"p":"D","g":"High","k":"lower","t":8.5,"s":0.84},{"p":"D","g":"High","k":"lower","t":10.4,"s":0.81},{"p":"D","g":"High","k":"lower","t":11.7,"s":0.79},{"p":"D","g":"High","k":"lower","t":13.6,"s":0.75},{"p":"D","g":"High","k":"lower","t":15.0,"s":0.71},{"p":"D","g":"High","k":"lower","t":16.5,"s":0.67},{"p":"D","g":"High","k":"lower","t":18.4,"s":0.64},{"p":"D","g":"High","k":"lower","t":20.3,"s":0.625},{"p":"D","g":"High","k":"lower","t":22.2,"s":0.6},{"p":"D","g":"High","k":"lower","t":24.1,"s":0.575},{"p":"D","g":"High","k":"lower","t":25.9,"s":0.56},{"p":"D","g":"High","k":"lower","t":28.8,"s":0.545},{"p":"D","g":"High","k":"lower","t":30.7,"s":0.515},{"p":"D","g":"High","k":"lower","t":32.6,"s":0.49},{"p":"D","g":"High","k":"lower","t":34.5,"s":0.475},{"p":"D","g":"High","k":"lower","t":36.4,"s":0.455},{"p":"D","g":"High","k":"lower","t":38.3,"s":0.43},{"p":"D","g":"High","k":"lower","t":39.6,"s":0.41},{"p":"D","g":"High","k":"lower","t":41.1,"s":0.4},{"p":"D","g":"High","k":"lower","t":43.9,"s":0.385},{"p":"D","g":"High","k":"lower","t":46.8,"s":0.37},{"p":"D","g":"High","k":"lower","t":49.6,"s":0.355},{"p":"D","g":"High","k":"lower","t":51.5,"s":0.34},{"p":"D","g":"High","k":"lower","t":54.0,"s":0.3},{"p":"D","g":"High","k":"lower","t":55.3,"s":0.265},{"p":"D","g":"High","k":"lower","t":69.5,"s":0.229},{"p":"D","g":"High","k":"lower","t":79.0,"s":0.188},{"p":"D","g":"High","k":"lower","t":100.8,"s":0.079},{"p":"D","g":"High","k":"lower","t":137.7,"s":0.079}
],
"censors": [
{"p":"A","g":"High","t":1,"s":1},{"p":"A","g":"High","t":2,"s":1},{"p":"A","g":"High","t":3,"s":1},{"p":"A","g":"High","t":5,"s":1},{"p":"A","g":"High","t":6,"s":1},{"p":"A","g":"High","t":7,"s":1},{"p":"A","g":"High","t":11,"s":0.99},{"p":"A","g":"High","t":13,"s":0.99},{"p":"A","g":"High","t":17,"s":0.982},{"p":"A","g":"High","t":23,"s":0.964},{"p":"A","g":"High","t":24,"s":0.964},{"p":"A","g":"High","t":25,"s":0.964},{"p":"A","g":"High","t":26,"s":0.964},{"p":"A","g":"High","t":27,"s":0.964},{"p":"A","g":"High","t":28,"s":0.964},{"p":"A","g":"High","t":29,"s":0.964},{"p":"A","g":"High","t":30,"s":0.964},{"p":"A","g":"High","t":34,"s":0.95},{"p":"A","g":"High","t":36,"s":0.95},{"p":"A","g":"High","t":38,"s":0.95},{"p":"A","g":"High","t":40,"s":0.95},{"p":"A","g":"High","t":41,"s":0.95},{"p":"A","g":"High","t":43,"s":0.95},{"p":"A","g":"High","t":56,"s":0.806},{"p":"A","g":"High","t":58,"s":0.806},{"p":"A","g":"High","t":60,"s":0.806},{"p":"A","g":"High","t":62,"s":0.806},{"p":"A","g":"High","t":64,"s":0.806},{"p":"A","g":"High","t":75,"s":0.77},{"p":"A","g":"High","t":77,"s":0.77},{"p":"A","g":"High","t":79,"s":0.77},{"p":"A","g":"High","t":81,"s":0.77},{"p":"A","g":"High","t":83,"s":0.77},{"p":"A","g":"High","t":93,"s":0.667},{"p":"A","g":"High","t":96,"s":0.667},{"p":"A","g":"High","t":103,"s":0.579},{"p":"A","g":"High","t":106,"s":0.579},{"p":"A","g":"High","t":110,"s":0.579},{"p":"A","g":"High","t":113,"s":0.579},{"p":"A","g":"High","t":117,"s":0.579},{"p":"A","g":"High","t":121,"s":0.579},{"p":"A","g":"High","t":125,"s":0.579},{"p":"A","g":"High","t":128,"s":0.579},
{"p":"A","g":"Low","t":23,"s":0.846},{"p":"A","g":"Low","t":25,"s":0.834},{"p":"A","g":"Low","t":28,"s":0.828},{"p":"A","g":"Low","t":29,"s":0.828},{"p":"A","g":"Low","t":30,"s":0.828},{"p":"A","g":"Low","t":31,"s":0.828},{"p":"A","g":"Low","t":33,"s":0.828},{"p":"A","g":"Low","t":35,"s":0.828},{"p":"A","g":"Low","t":40,"s":0.799},{"p":"A","g":"Low","t":42,"s":0.799},{"p":"A","g":"Low","t":43,"s":0.799},{"p":"A","g":"Low","t":54,"s":0.722},{"p":"A","g":"Low","t":56,"s":0.722},{"p":"A","g":"Low","t":58,"s":0.722},{"p":"A","g":"Low","t":63,"s":0.705},{"p":"A","g":"Low","t":65,"s":0.705},{"p":"A","g":"Low","t":67,"s":0.705},{"p":"A","g":"Low","t":69,"s":0.705},{"p":"A","g":"Low","t":71,"s":0.705},{"p":"A","g":"Low","t":73,"s":0.705},{"p":"A","g":"Low","t":75,"s":0.705},{"p":"A","g":"Low","t":80,"s":0.646},{"p":"A","g":"Low","t":82,"s":0.646},{"p":"A","g":"Low","t":93,"s":0.573},{"p":"A","g":"Low","t":132,"s":0.573},{"p":"A","g":"Low","t":198.5,"s":0.573},
{"p":"B","g":"Low","t":2.6,"s":0.946},{"p":"B","g":"Low","t":3.6,"s":0.946},{"p":"B","g":"Low","t":6.0,"s":0.926},{"p":"B","g":"Low","t":8.5,"s":0.894},{"p":"B","g":"Low","t":9.5,"s":0.879},{"p":"B","g":"Low","t":14.5,"s":0.802},{"p":"B","g":"Low","t":15.6,"s":0.802},{"p":"B","g":"Low","t":21.8,"s":0.665},{"p":"B","g":"Low","t":22.8,"s":0.665},{"p":"B","g":"Low","t":23.9,"s":0.665},{"p":"B","g":"Low","t":25.0,"s":0.665},{"p":"B","g":"Low","t":34.8,"s":0.549},{"p":"B","g":"Low","t":39.5,"s":0.549},{"p":"B","g":"Low","t":40.5,"s":0.549},{"p":"B","g":"Low","t":41.6,"s":0.549},{"p":"B","g":"Low","t":42.6,"s":0.549},{"p":"B","g":"Low","t":43.6,"s":0.549},{"p":"B","g":"Low","t":48,"s":0.549},{"p":"B","g":"Low","t":52.3,"s":0.549},{"p":"B","g":"Low","t":53,"s":0.549},{"p":"B","g":"Low","t":58.2,"s":0.479},{"p":"B","g":"Low","t":61.3,"s":0.479},{"p":"B","g":"Low","t":63.4,"s":0.479},{"p":"B","g":"Low","t":75.3,"s":0.479},{"p":"B","g":"Low","t":77.4,"s":0.479},{"p":"B","g":"Low","t":96.5,"s":0.479},
{"p":"B","g":"High","t":0.8,"s":1},{"p":"B","g":"High","t":3.0,"s":0.891},{"p":"B","g":"High","t":8.0,"s":0.708},{"p":"B","g":"High","t":10.3,"s":0.652},{"p":"B","g":"High","t":11.4,"s":0.638},{"p":"B","g":"High","t":13.6,"s":0.567},{"p":"B","g":"High","t":15.8,"s":0.544},{"p":"B","g":"High","t":17.2,"s":0.544},{"p":"B","g":"High","t":21.0,"s":0.508},{"p":"B","g":"High","t":22.3,"s":0.491},{"p":"B","g":"High","t":23.9,"s":0.458},{"p":"B","g":"High","t":29.6,"s":0.347},{"p":"B","g":"High","t":31.7,"s":0.347},{"p":"B","g":"High","t":38.1,"s":0.347},{"p":"B","g":"High","t":50.1,"s":0.249},{"p":"B","g":"High","t":56.1,"s":0.249},{"p":"B","g":"High","t":60.3,"s":0.249},{"p":"B","g":"High","t":71.2,"s":0.249},{"p":"B","g":"High","t":84.7,"s":0.249},
{"p":"C","g":"Low","t":2,"s":1},{"p":"C","g":"Low","t":4,"s":1},{"p":"C","g":"Low","t":6,"s":0.99},{"p":"C","g":"Low","t":8,"s":0.99},{"p":"C","g":"Low","t":26,"s":0.908},{"p":"C","g":"Low","t":27,"s":0.908},{"p":"C","g":"Low","t":28,"s":0.908},{"p":"C","g":"Low","t":29,"s":0.908},{"p":"C","g":"Low","t":30,"s":0.908},{"p":"C","g":"Low","t":31,"s":0.908},{"p":"C","g":"Low","t":36.5,"s":0.87},{"p":"C","g":"Low","t":37.5,"s":0.87},{"p":"C","g":"Low","t":38.5,"s":0.87},{"p":"C","g":"Low","t":40,"s":0.87},{"p":"C","g":"Low","t":44,"s":0.825},{"p":"C","g":"Low","t":46,"s":0.811},{"p":"C","g":"Low","t":48,"s":0.794},{"p":"C","g":"Low","t":50,"s":0.776},{"p":"C","g":"Low","t":52.5,"s":0.755},{"p":"C","g":"Low","t":57,"s":0.723},{"p":"C","g":"Low","t":58.5,"s":0.711},{"p":"C","g":"Low","t":62.5,"s":0.693},{"p":"C","g":"Low","t":65,"s":0.693},{"p":"C","g":"Low","t":68,"s":0.693},{"p":"C","g":"Low","t":70,"s":0.693},{"p":"C","g":"Low","t":72,"s":0.693},{"p":"C","g":"Low","t":90.5,"s":0.575},{"p":"C","g":"Low","t":93,"s":0.575},{"p":"C","g":"Low","t":97,"s":0.575},{"p":"C","g":"Low","t":125.5,"s":0.478},{"p":"C","g":"Low","t":158.8,"s":0.237},{"p":"C","g":"Low","t":175,"s":0.118},{"p":"C","g":"Low","t":178.4,"s":0.118},
{"p":"C","g":"High","t":1,"s":1},{"p":"C","g":"High","t":2,"s":1},{"p":"C","g":"High","t":3,"s":1},{"p":"C","g":"High","t":5,"s":0.982},{"p":"C","g":"High","t":12,"s":0.917},{"p":"C","g":"High","t":16.5,"s":0.882},{"p":"C","g":"High","t":23.5,"s":0.829},{"p":"C","g":"High","t":28,"s":0.77},{"p":"C","g":"High","t":30,"s":0.741},{"p":"C","g":"High","t":31.5,"s":0.723},{"p":"C","g":"High","t":34,"s":0.7},{"p":"C","g":"High","t":35,"s":0.7},{"p":"C","g":"High","t":40,"s":0.634},{"p":"C","g":"High","t":42,"s":0.623},{"p":"C","g":"High","t":43,"s":0.623},{"p":"C","g":"High","t":45,"s":0.607},{"p":"C","g":"High","t":47,"s":0.599},{"p":"C","g":"High","t":49,"s":0.581},{"p":"C","g":"High","t":52,"s":0.554},{"p":"C","g":"High","t":58,"s":0.554},{"p":"C","g":"High","t":60,"s":0.54},{"p":"C","g":"High","t":63,"s":0.522},{"p":"C","g":"High","t":66,"s":0.505},{"p":"C","g":"High","t":70,"s":0.475},{"p":"C","g":"High","t":83,"s":0.428},{"p":"C","g":"High","t":85,"s":0.428},{"p":"C","g":"High","t":87,"s":0.428},{"p":"C","g":"High","t":89,"s":0.428},{"p":"C","g":"High","t":91,"s":0.428},{"p":"C","g":"High","t":93,"s":0.428},{"p":"C","g":"High","t":96.8,"s":0.381},{"p":"C","g":"High","t":98,"s":0.351},{"p":"C","g":"High","t":101.5,"s":0.318},{"p":"C","g":"High","t":108,"s":0.318},{"p":"C","g":"High","t":137,"s":0.204},{"p":"C","g":"High","t":185,"s":0.1},{"p":"C","g":"High","t":216.7,"s":0.1},
{"p":"D","g":"Low","t":1,"s":1},{"p":"D","g":"Low","t":4,"s":0.988},{"p":"D","g":"Low","t":10,"s":0.941},{"p":"D","g":"Low","t":13,"s":0.894},{"p":"D","g":"Low","t":22,"s":0.824},{"p":"D","g":"Low","t":24,"s":0.806},{"p":"D","g":"Low","t":33.5,"s":0.688},{"p":"D","g":"Low","t":34.5,"s":0.688},{"p":"D","g":"Low","t":35.4,"s":0.688},{"p":"D","g":"Low","t":36.4,"s":0.688},{"p":"D","g":"Low","t":37.3,"s":0.688},{"p":"D","g":"Low","t":38.3,"s":0.688},{"p":"D","g":"Low","t":39.2,"s":0.688},{"p":"D","g":"Low","t":44.9,"s":0.629},{"p":"D","g":"Low","t":45.8,"s":0.629},{"p":"D","g":"Low","t":46.8,"s":0.629},{"p":"D","g":"Low","t":47.7,"s":0.629},{"p":"D","g":"Low","t":48.7,"s":0.629},{"p":"D","g":"Low","t":49.6,"s":0.629},{"p":"D","g":"Low","t":50.6,"s":0.629},{"p":"D","g":"Low","t":51.5,"s":0.629},{"p":"D","g":"Low","t":57.2,"s":0.6},{"p":"D","g":"Low","t":58.1,"s":0.6},{"p":"D","g":"Low","t":60,"s":0.6},{"p":"D","g":"Low","t":71.4,"s":0.52},{"p":"D","g":"Low","t":76.7,"s":0.459},{"p":"D","g":"Low","t":90.3,"s":0.429},{"p":"D","g":"Low","t":95.1,"s":0.429},{"p":"D","g":"Low","t":107,"s":0.382},{"p":"D","g":"Low","t":119.7,"s":0.324},{"p":"D","g":"Low","t":125.4,"s":0.261},{"p":"D","g":"Low","t":176.5,"s":0.261},
{"p":"D","g":"High","t":1,"s":1},{"p":"D","g":"High","t":2,"s":1},{"p":"D","g":"High","t":19,"s":0.706},{"p":"D","g":"High","t":21,"s":0.694},{"p":"D","g":"High","t":23,"s":0.671},{"p":"D","g":"High","t":25,"s":0.645},{"p":"D","g":"High","t":27,"s":0.635},{"p":"D","g":"High","t":28,"s":0.635},{"p":"D","g":"High","t":33.5,"s":0.559},{"p":"D","g":"High","t":35,"s":0.549},{"p":"D","g":"High","t":36,"s":0.549},{"p":"D","g":"High","t":41.5,"s":0.471},{"p":"D","g":"High","t":43,"s":0.471},{"p":"D","g":"High","t":44.5,"s":0.459},{"p":"D","g":"High","t":47.5,"s":0.447},{"p":"D","g":"High","t":49,"s":0.447},{"p":"D","g":"High","t":52,"s":0.418},{"p":"D","g":"High","t":59,"s":0.353},{"p":"D","g":"High","t":60,"s":0.353},{"p":"D","g":"High","t":61,"s":0.353},{"p":"D","g":"High","t":62,"s":0.353},{"p":"D","g":"High","t":63.8,"s":0.353},{"p":"D","g":"High","t":74.2,"s":0.324},{"p":"D","g":"High","t":76.1,"s":0.324},{"p":"D","g":"High","t":78,"s":0.324},{"p":"D","g":"High","t":84.7,"s":0.288},{"p":"D","g":"High","t":85.6,"s":0.288},{"p":"D","g":"High","t":87.5,"s":0.288},{"p":"D","g":"High","t":97.9,"s":0.288},{"p":"D","g":"High","t":137.7,"s":0.191}
],
"stats": [
{"p":"A","letter":"A","title":"Overall survival","low":"Low GPX1 TPM","high":"High GPX1 TPM","txt":"Log-rank P=0.023\nHR(high) =0.48\np(HR) =0.026\nn(high) =141\nn(low) =141"},
{"p":"B","letter":"B","title":"Overall survival","low":"Low GPX1 TPM","high":"High GPX1 TPM","txt":"Log-rank P =0.011\nHR(high) =2\np(HR) =0.013\nn(high) =53\nn(low) =53"},
{"p":"C","letter":"C","title":"Overall survival","low":"Low GPX1 TPM","high":"High GPX1 TPM","txt":"Log-rank P =8.4e−05\nHR(high) =2.1\np(HR) =0.00012\nn(high) =257\nn(low) =257"},
{"p":"D","letter":"D","title":"Disease free survival","low":"Low GPX1 TPM","high":"High GPX1 TPM","txt":"Log-rank P=0.001\nHR(high) =1.7\np(HR) =0.0012\nn(high) =257\nn(low) =257"}
]
},
"concat": [
{
 "width": 321, "height": 308,
 "layer": [
  {"data": {"name": "curves"}, "transform": [{"filter": "datum.p === 'A' && datum.k !== 'est'"}],
   "mark": {"type": "line", "interpolate": "step-after", "strokeWidth": 1.2, "strokeDash": [1.5, 2.5]},
   "encoding": {
    "x": {"field": "t", "type": "quantitative", "scale": {"domain": [0, 205.6], "nice": false, "zero": false}, "axis": {"values": [0, 50, 100, 150, 200], "title": "Months"}},
    "y": {"field": "s", "type": "quantitative", "scale": {"domain": [-0.04, 1.04], "nice": false, "zero": false}, "axis": {"values": [0, 0.2, 0.4, 0.6, 0.8, 1], "format": ".1f", "title": "Percent survival"}},
    "color": {"field": "g", "type": "nominal", "scale": {"domain": ["Low", "High"], "range": ["#0a0ae0", "#e81010"]}, "legend": null},
    "detail": {"field": "k"}}},
  {"data": {"name": "curves"}, "transform": [{"filter": "datum.p === 'A' && datum.k === 'est'"}],
   "mark": {"type": "line", "interpolate": "step-after", "strokeWidth": 2.4},
   "encoding": {"x": {"field": "t", "type": "quantitative"}, "y": {"field": "s", "type": "quantitative"}, "color": {"field": "g", "type": "nominal", "legend": null}}},
  {"data": {"name": "censors"}, "transform": [{"filter": "datum.p === 'A'"}],
   "mark": {"type": "tick", "orient": "vertical", "size": 9, "thickness": 1.4},
   "encoding": {"x": {"field": "t", "type": "quantitative"}, "y": {"field": "s", "type": "quantitative"}, "color": {"field": "g", "type": "nominal", "legend": null}}},
  {"data": {"name": "stats"}, "transform": [{"filter": "datum.p === 'A'"}],
   "layer": [
    {"mark": {"type": "rule", "strokeWidth": 2.7, "color": "#0a0ae0"}, "encoding": {"x": {"datum": 118.7, "type": "quantitative"}, "x2": {"datum": 136.6}, "y": {"datum": 0.986, "type": "quantitative"}}},
    {"mark": {"type": "rule", "strokeWidth": 2.7, "color": "#e81010"}, "encoding": {"x": {"datum": 118.7, "type": "quantitative"}, "x2": {"datum": 136.6}, "y": {"datum": 0.937, "type": "quantitative"}}},
    {"mark": {"type": "text", "align": "left", "baseline": "alphabetic", "fontSize": 13, "color": "black"}, "encoding": {"x": {"datum": 139.2, "type": "quantitative"}, "y": {"datum": 0.969, "type": "quantitative"}, "text": {"field": "low"}}},
    {"mark": {"type": "text", "align": "left", "baseline": "alphabetic", "fontSize": 13, "color": "black"}, "encoding": {"x": {"datum": 139.2, "type": "quantitative"}, "y": {"datum": 0.92, "type": "quantitative"}, "text": {"field": "high"}}},
    {"mark": {"type": "text", "align": "right", "baseline": "alphabetic", "fontSize": 13, "lineBreak": "\n", "lineHeight": 16, "color": "black"}, "encoding": {"x": {"datum": 200.6, "type": "quantitative"}, "y": {"datum": 0.868, "type": "quantitative"}, "text": {"field": "txt"}}},
    {"mark": {"type": "text", "align": "center", "baseline": "alphabetic", "fontSize": 14.2, "color": "black"}, "encoding": {"x": {"datum": 114.8, "type": "quantitative"}, "y": {"datum": 1.0575, "type": "quantitative"}, "text": {"field": "title"}}},
    {"mark": {"type": "text", "align": "left", "baseline": "alphabetic", "fontSize": 21, "color": "black"}, "encoding": {"x": {"datum": -32, "type": "quantitative"}, "y": {"datum": 1.0425, "type": "quantitative"}, "text": {"field": "letter"}}}
   ]}
 ]
},
{
 "width": 321, "height": 308,
 "layer": [
  {"data": {"name": "curves"}, "transform": [{"filter": "datum.p === 'B' && datum.k !== 'est'"}],
   "mark": {"type": "line", "interpolate": "step-after", "strokeWidth": 1.2, "strokeDash": [1.5, 2.5]},
   "encoding": {
    "x": {"field": "t", "type": "quantitative", "scale": {"domain": [0, 99.8], "nice": false, "zero": false}, "axis": {"values": [0, 20, 40, 60, 80], "title": "Months"}},
    "y": {"field": "s", "type": "quantitative", "scale": {"domain": [-0.04, 1.04], "nice": false, "zero": false}, "axis": {"values": [0, 0.2, 0.4, 0.6, 0.8, 1], "format": ".1f", "title": "Percent survival"}},
    "color": {"field": "g", "type": "nominal", "scale": {"domain": ["Low", "High"], "range": ["#0a0ae0", "#e81010"]}, "legend": null},
    "detail": {"field": "k"}}},
  {"data": {"name": "curves"}, "transform": [{"filter": "datum.p === 'B' && datum.k === 'est'"}],
   "mark": {"type": "line", "interpolate": "step-after", "strokeWidth": 2.4},
   "encoding": {"x": {"field": "t", "type": "quantitative"}, "y": {"field": "s", "type": "quantitative"}, "color": {"field": "g", "type": "nominal", "legend": null}}},
  {"data": {"name": "censors"}, "transform": [{"filter": "datum.p === 'B'"}],
   "mark": {"type": "tick", "orient": "vertical", "size": 9, "thickness": 1.4},
   "encoding": {"x": {"field": "t", "type": "quantitative"}, "y": {"field": "s", "type": "quantitative"}, "color": {"field": "g", "type": "nominal", "legend": null}}},
  {"data": {"name": "stats"}, "transform": [{"filter": "datum.p === 'B'"}],
   "layer": [
    {"mark": {"type": "rule", "strokeWidth": 2.7, "color": "#0a0ae0"}, "encoding": {"x": {"datum": 57.7, "type": "quantitative"}, "x2": {"datum": 66.0}, "y": {"datum": 0.986, "type": "quantitative"}}},
    {"mark": {"type": "rule", "strokeWidth": 2.7, "color": "#e81010"}, "encoding": {"x": {"datum": 57.7, "type": "quantitative"}, "x2": {"datum": 66.0}, "y": {"datum": 0.937, "type": "quantitative"}}},
    {"mark": {"type": "text", "align": "left", "baseline": "alphabetic", "fontSize": 13, "color": "black"}, "encoding": {"x": {"datum": 67.8, "type": "quantitative"}, "y": {"datum": 0.969, "type": "quantitative"}, "text": {"field": "low"}}},
    {"mark": {"type": "text", "align": "left", "baseline": "alphabetic", "fontSize": 13, "color": "black"}, "encoding": {"x": {"datum": 67.8, "type": "quantitative"}, "y": {"datum": 0.92, "type": "quantitative"}, "text": {"field": "high"}}},
    {"mark": {"type": "text", "align": "right", "baseline": "alphabetic", "fontSize": 13, "lineBreak": "\n", "lineHeight": 16, "color": "black"}, "encoding": {"x": {"datum": 97.6, "type": "quantitative"}, "y": {"datum": 0.868, "type": "quantitative"}, "text": {"field": "txt"}}},
    {"mark": {"type": "text", "align": "center", "baseline": "alphabetic", "fontSize": 14.2, "color": "black"}, "encoding": {"x": {"datum": 51.6, "type": "quantitative"}, "y": {"datum": 1.0575, "type": "quantitative"}, "text": {"field": "title"}}},
    {"mark": {"type": "text", "align": "left", "baseline": "alphabetic", "fontSize": 21, "color": "black"}, "encoding": {"x": {"datum": -16.2, "type": "quantitative"}, "y": {"datum": 1.0425, "type": "quantitative"}, "text": {"field": "letter"}}}
   ]}
 ]
},
{
 "width": 321, "height": 308,
 "layer": [
  {"data": {"name": "curves"}, "transform": [{"filter": "datum.p === 'C' && datum.k !== 'est'"}],
   "mark": {"type": "line", "interpolate": "step-after", "strokeWidth": 1.2, "strokeDash": [1.5, 2.5]},
   "encoding": {
    "x": {"field": "t", "type": "quantitative", "scale": {"domain": [0, 223.2], "nice": false, "zero": false}, "axis": {"values": [0, 50, 100, 150, 200], "title": "Months"}},
    "y": {"field": "s", "type": "quantitative", "scale": {"domain": [-0.04, 1.04], "nice": false, "zero": false}, "axis": {"values": [0, 0.2, 0.4, 0.6, 0.8, 1], "format": ".1f", "title": "Percent survival"}},
    "color": {"field": "g", "type": "nominal", "scale": {"domain": ["Low", "High"], "range": ["#0a0ae0", "#e81010"]}, "legend": null},
    "detail": {"field": "k"}}},
  {"data": {"name": "curves"}, "transform": [{"filter": "datum.p === 'C' && datum.k === 'est'"}],
   "mark": {"type": "line", "interpolate": "step-after", "strokeWidth": 2.4},
   "encoding": {"x": {"field": "t", "type": "quantitative"}, "y": {"field": "s", "type": "quantitative"}, "color": {"field": "g", "type": "nominal", "legend": null}}},
  {"data": {"name": "censors"}, "transform": [{"filter": "datum.p === 'C'"}],
   "mark": {"type": "tick", "orient": "vertical", "size": 9, "thickness": 1.4},
   "encoding": {"x": {"field": "t", "type": "quantitative"}, "y": {"field": "s", "type": "quantitative"}, "color": {"field": "g", "type": "nominal", "legend": null}}},
  {"data": {"name": "stats"}, "transform": [{"filter": "datum.p === 'C'"}],
   "layer": [
    {"mark": {"type": "rule", "strokeWidth": 2.7, "color": "#0a0ae0"}, "encoding": {"x": {"datum": 129.1, "type": "quantitative"}, "x2": {"datum": 148.3}, "y": {"datum": 0.986, "type": "quantitative"}}},
    {"mark": {"type": "rule", "strokeWidth": 2.7, "color": "#e81010"}, "encoding": {"x": {"datum": 129.1, "type": "quantitative"}, "x2": {"datum": 148.3}, "y": {"datum": 0.937, "type": "quantitative"}}},
    {"mark": {"type": "text", "align": "left", "baseline": "alphabetic", "fontSize": 13, "color": "black"}, "encoding": {"x": {"datum": 151.3, "type": "quantitative"}, "y": {"datum": 0.969, "type": "quantitative"}, "text": {"field": "low"}}},
    {"mark": {"type": "text", "align": "left", "baseline": "alphabetic", "fontSize": 13, "color": "black"}, "encoding": {"x": {"datum": 151.3, "type": "quantitative"}, "y": {"datum": 0.92, "type": "quantitative"}, "text": {"field": "high"}}},
    {"mark": {"type": "text", "align": "right", "baseline": "alphabetic", "fontSize": 13, "lineBreak": "\n", "lineHeight": 16, "color": "black"}, "encoding": {"x": {"datum": 217.9, "type": "quantitative"}, "y": {"datum": 0.868, "type": "quantitative"}, "text": {"field": "txt"}}},
    {"mark": {"type": "text", "align": "center", "baseline": "alphabetic", "fontSize": 14.2, "color": "black"}, "encoding": {"x": {"datum": 124.5, "type": "quantitative"}, "y": {"datum": 1.0575, "type": "quantitative"}, "text": {"field": "title"}}},
    {"mark": {"type": "text", "align": "left", "baseline": "alphabetic", "fontSize": 24, "color": "black"}, "encoding": {"x": {"datum": -33.2, "type": "quantitative"}, "y": {"datum": 1.0375, "type": "quantitative"}, "text": {"field": "letter"}}}
   ]}
 ]
},
{
 "width": 321, "height": 308,
 "layer": [
  {"data": {"name": "curves"}, "transform": [{"filter": "datum.p === 'D' && datum.k !== 'est'"}],
   "mark": {"type": "line", "interpolate": "step-after", "strokeWidth": 1.2, "strokeDash": [1.5, 2.5]},
   "encoding": {
    "x": {"field": "t", "type": "quantitative", "scale": {"domain": [0, 182.4], "nice": false, "zero": false}, "axis": {"values": [0, 50, 100, 150], "title": "Months"}},
    "y": {"field": "s", "type": "quantitative", "scale": {"domain": [-0.04, 1.04], "nice": false, "zero": false}, "axis": {"values": [0, 0.2, 0.4, 0.6, 0.8, 1], "format": ".1f", "title": "Percent survival"}},
    "color": {"field": "g", "type": "nominal", "scale": {"domain": ["Low", "High"], "range": ["#0a0ae0", "#e81010"]}, "legend": null},
    "detail": {"field": "k"}}},
  {"data": {"name": "curves"}, "transform": [{"filter": "datum.p === 'D' && datum.k === 'est'"}],
   "mark": {"type": "line", "interpolate": "step-after", "strokeWidth": 2.4},
   "encoding": {"x": {"field": "t", "type": "quantitative"}, "y": {"field": "s", "type": "quantitative"}, "color": {"field": "g", "type": "nominal", "legend": null}}},
  {"data": {"name": "censors"}, "transform": [{"filter": "datum.p === 'D'"}],
   "mark": {"type": "tick", "orient": "vertical", "size": 9, "thickness": 1.4},
   "encoding": {"x": {"field": "t", "type": "quantitative"}, "y": {"field": "s", "type": "quantitative"}, "color": {"field": "g", "type": "nominal", "legend": null}}},
  {"data": {"name": "stats"}, "transform": [{"filter": "datum.p === 'D'"}],
   "layer": [
    {"mark": {"type": "rule", "strokeWidth": 2.7, "color": "#0a0ae0"}, "encoding": {"x": {"datum": 105.9, "type": "quantitative"}, "x2": {"datum": 120.7}, "y": {"datum": 0.986, "type": "quantitative"}}},
    {"mark": {"type": "rule", "strokeWidth": 2.7, "color": "#e81010"}, "encoding": {"x": {"datum": 105.9, "type": "quantitative"}, "x2": {"datum": 120.7}, "y": {"datum": 0.937, "type": "quantitative"}}},
    {"mark": {"type": "text", "align": "left", "baseline": "alphabetic", "fontSize": 13, "color": "black"}, "encoding": {"x": {"datum": 123.5, "type": "quantitative"}, "y": {"datum": 0.969, "type": "quantitative"}, "text": {"field": "low"}}},
    {"mark": {"type": "text", "align": "left", "baseline": "alphabetic", "fontSize": 13, "color": "black"}, "encoding": {"x": {"datum": 123.5, "type": "quantitative"}, "y": {"datum": 0.92, "type": "quantitative"}, "text": {"field": "high"}}},
    {"mark": {"type": "text", "align": "right", "baseline": "alphabetic", "fontSize": 13, "lineBreak": "\n", "lineHeight": 16, "color": "black"}, "encoding": {"x": {"datum": 178.1, "type": "quantitative"}, "y": {"datum": 0.868, "type": "quantitative"}, "text": {"field": "txt"}}},
    {"mark": {"type": "text", "align": "center", "baseline": "alphabetic", "fontSize": 14.2, "color": "black"}, "encoding": {"x": {"datum": 91.2, "type": "quantitative"}, "y": {"datum": 1.0575, "type": "quantitative"}, "text": {"field": "title"}}},
    {"mark": {"type": "text", "align": "left", "baseline": "alphabetic", "fontSize": 24, "color": "black"}, "encoding": {"x": {"datum": -30.1, "type": "quantitative"}, "y": {"datum": 1.034, "type": "quantitative"}, "text": {"field": "letter"}}}
   ]}
 ]
}
]
}
